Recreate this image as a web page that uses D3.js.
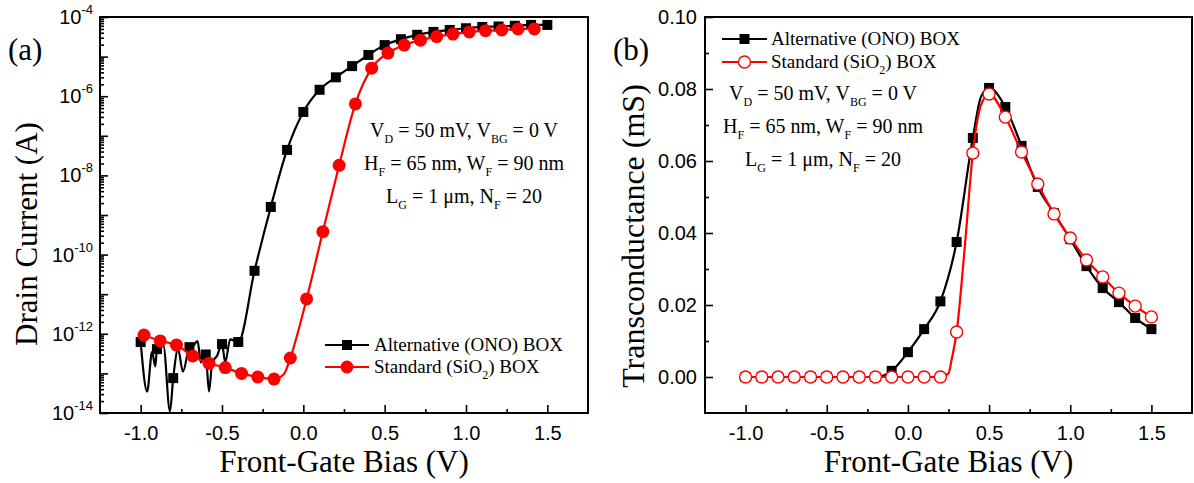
<!DOCTYPE html>
<html><head><meta charset="utf-8">
<script src="https://cdn.jsdelivr.net/npm/d3@7"></script>
<style>
html,body{margin:0;padding:0;background:#fff;}
svg{display:block;}
</style></head><body>
<svg id="chart" width="1194" height="483"></svg>
<script>
// ---------- Data: panel (a) drain current ----------
const altIdV = [-1.00,-0.96,-0.93,-0.91,-0.90,-0.86,-0.82,-0.80,-0.77,-0.74,-0.70,-0.68,-0.65,-0.63,-0.60,-0.58,-0.56,-0.53,-0.50,-0.48,-0.45,-0.40,-0.30,-0.20,-0.10,0.00,0.10,0.20,0.30,0.40,0.50,0.60,0.70,0.80,0.90,1.00,1.10,1.20,1.30,1.40,1.50];
const altId  = [6.2e-13,3.5e-14,3.5e-13,1.5e-13,4.1e-13,4.9e-13,1.1e-14,7.6e-14,4.1e-13,1.1e-13,4.6e-13,4.9e-13,6.5e-13,1.9e-13,3.0e-13,3.5e-14,1.9e-13,2.8e-13,5.5e-13,1.9e-13,7.2e-13,6.2e-13,3.9e-11,1.6e-9,4.4e-8,4.0e-7,1.45e-6,3.0e-6,5.75e-6,1.1e-5,1.95e-5,2.75e-5,3.55e-5,4.2e-5,4.7e-5,5.2e-5,5.6e-5,5.75e-5,6.0e-5,6.3e-5,6.3e-5];
const stdIdV = [-0.98,-0.88,-0.78,-0.68,-0.58,-0.48,-0.38,-0.28,-0.18,-0.12,-0.08,0.02,0.12,0.22,0.32,0.42,0.52,0.62,0.72,0.82,0.92,1.02,1.12,1.22,1.32,1.42];
const stdId  = [9.3e-13,6.6e-13,5.2e-13,2.75e-13,1.8e-13,1.4e-13,1.0e-13,8.1e-14,7.2e-14,9.5e-14,2.45e-13,7.6e-12,3.8e-10,1.8e-8,6.4e-7,5.1e-6,1.23e-5,1.95e-5,2.6e-5,3.2e-5,3.7e-5,4.2e-5,4.5e-5,4.7e-5,5.0e-5,5.0e-5];

// ---------- Data: panel (b) transconductance (mS) ----------
const altGmV = [-1.0,-0.9,-0.8,-0.7,-0.6,-0.5,-0.4,-0.3,-0.2,-0.1,0.0,0.1,0.2,0.3,0.4,0.45,0.5,0.6,0.7,0.8,0.9,1.0,1.1,1.2,1.3,1.4,1.5];
const altGm  = [0,0,0,0,0,0,0,0,0,0.0017,0.0069,0.0133,0.0210,0.0375,0.0664,0.0778,0.0803,0.0750,0.0642,0.0528,0.0455,0.0383,0.0308,0.0247,0.0208,0.0164,0.0133];
const stdGmV = [-1.0,-0.9,-0.8,-0.7,-0.6,-0.5,-0.4,-0.3,-0.2,-0.1,0.0,0.1,0.2,0.25,0.27,0.3,0.35,0.4,0.45,0.5,0.6,0.7,0.8,0.9,1.0,1.1,1.2,1.3,1.4,1.5];
const stdGm  = [0,0,0,0,0,0,0,0,0,0,0,0,0,0.001,0.005,0.0125,0.036,0.0622,0.0755,0.0786,0.0722,0.0625,0.0536,0.0453,0.0386,0.0325,0.0278,0.0233,0.0197,0.0167];

// ---------- Ticks & labels ----------
const xTicks = [-1.0,-0.5,0.0,0.5,1.0,1.5];
const xTickLabels = ["-1.0","-0.5","0.0","0.5","1.0","1.5"];
const xMinor = [-0.75,-0.25,0.25,0.75,1.25];
const yDecadesA = [-14,-13,-12,-11,-10,-9,-8,-7,-6,-5,-4];
const yTicksB = [0,0.02,0.04,0.06,0.08,0.10];
const yTickLabelsB = ["0.00","0.02","0.04","0.06","0.08","0.10"];
const yMinorB = [0.01,0.03,0.05,0.07,0.09];

const xTitle = "Front-Gate Bias (V)";
const yTitleA = "Drain Current (A)";
const yTitleB = "Transconductance (mS)";
const legendParts = [
  [["Alternative (ONO) BOX",0]],
  [["Standard (SiO",0],["2",1],[") BOX",0]]
];
const annoLines = [
  [["V",0],["D",1],[" = 50 mV, V",0],["BG",1],[" = 0 V",0]],
  [["H",0],["F",1],[" = 65 nm, W",0],["F",1],[" = 90 nm",0]],
  [["L",0],["G",1],[" = 1 \u03bcm, N",0],["F",1],[" = 20",0]]
];

// ---------- Drawing ----------
const serif = "'Liberation Serif','Times New Roman',serif";
const sans = "'Liberation Sans',Arial,sans-serif";
const RED = "#ff0000";
const svg = d3.select("#chart");
svg.append("rect").attr("width",1194).attr("height",483).attr("fill","#fff");

function rich(textSel, parts, subSize, subDy){
  let inSub = false;
  parts.forEach(([t,sub])=>{
    const ts = textSel.append("tspan").text(t);
    if (sub && !inSub){ ts.attr("dy",subDy).attr("font-size",subSize); inSub=true; }
    else if (sub && inSub){ ts.attr("font-size",subSize); }
    else if (!sub && inSub){ ts.attr("dy",-subDy); inSub=false; }
  });
}

function styleAxis(g, fontSize){
  g.select(".domain").remove();
  g.selectAll(".tick line").attr("stroke","#000").attr("stroke-width",1.6);
  g.selectAll(".tick text").attr("fill","#000").attr("font-family",sans).attr("font-size",fontSize);
}

function panel(cfg){
  const {x,y,left,right,top,bottom,id} = cfg;
  const g = svg.append("g");
  g.append("clipPath").attr("id","clip"+id).append("rect")
    .attr("x",left).attr("y",top).attr("width",right-left).attr("height",bottom-top);
  const gx = g.append("g").attr("transform",`translate(0,${bottom})`)
    .call(d3.axisBottom(x).tickValues(xTicks).tickFormat((d,i)=>xTickLabels[i])
      .tickSizeInner(-8).tickSizeOuter(0).tickPadding(13));
  styleAxis(gx,"20px");
  const gxm = g.append("g").attr("transform",`translate(0,${bottom})`)
    .call(d3.axisBottom(x).tickValues(xMinor).tickFormat("").tickSizeInner(-4).tickSizeOuter(0));
  styleAxis(gxm,"1px");
  g.append("text").attr("x",(left+right)/2).attr("y",472).attr("text-anchor","middle")
    .attr("font-family",serif).attr("font-size","31px").attr("fill","#000").text(xTitle);
  return g;
}

function drawSeries(g, id, x, y, V, Y, color, shape, off, size, filled){
  const pts = V.map((v,i)=>[v,Y[i]]);
  const layer = g.append("g").attr("clip-path",`url(#clip${id})`);
  layer.append("path").datum(pts)
    .attr("d", d3.line().x(d=>x(d[0])).y(d=>y(d[1])).curve(d3.curveMonotoneX))
    .attr("fill","none").attr("stroke",color).attr("stroke-width",2.2).attr("stroke-linejoin","round");
  const marks = pts.filter(d=>{ const k=(d[0]-off)*10; return Math.abs(k-Math.round(k))<1e-6; });
  drawMarkers(layer, marks.map(d=>[x(d[0]),y(d[1])]), color, shape, size, filled);
}

function drawMarkers(g, xy, color, shape, size, filled){
  if (shape==="square"){
    g.selectAll(null).data(xy).enter().append("rect")
      .attr("x",d=>d[0]-size/2).attr("y",d=>d[1]-size/2).attr("width",size).attr("height",size)
      .attr("fill",color);
  } else {
    g.selectAll(null).data(xy).enter().append("circle")
      .attr("cx",d=>d[0]).attr("cy",d=>d[1]).attr("r",size/2)
      .attr("fill",filled?color:"#fff").attr("stroke",color).attr("stroke-width",filled?0:1.4);
  }
}

function legend(g, x0, x1, yRows, textX, baseDy, styles){
  styles.forEach((s,i)=>{
    const yy = yRows[i];
    g.append("line").attr("x1",x0).attr("x2",x1).attr("y1",yy).attr("y2",yy)
      .attr("stroke",s.color).attr("stroke-width",2.2);
    drawMarkers(g, [[(x0+x1)/2, yy]], s.color, s.shape, s.size, s.filled);
    const t = g.append("text").attr("x",textX).attr("y",yy+baseDy)
      .attr("font-family",serif).attr("font-size","19px").attr("fill","#000");
    rich(t, legendParts[i], "12px", 6);
  });
}

function annotation(g, cx, baselines){
  annoLines.forEach((parts,i)=>{
    const t = g.append("text").attr("x",cx).attr("y",baselines[i]).attr("text-anchor","middle")
      .attr("font-family",serif).attr("font-size","20px").attr("fill","#000");
    rich(t, parts, "12px", 6);
  });
}

// ===== Panel (a) =====
{
  const left=100,right=588,top=17,bottom=413;
  const x = d3.scaleLinear().domain([-1.25,1.75]).range([left,right]);
  const y = d3.scaleLog().domain([1e-14,1e-4]).range([bottom,top]);
  const g = panel({x,y,left,right,top,bottom,id:"A"});
  const gy = g.append("g").attr("transform",`translate(${left},0)`)
    .call(d3.axisLeft(y).tickValues(yDecadesA.map(e=>Math.pow(10,e)))
      .tickFormat(()=> "").tickSizeInner(-8).tickSizeOuter(0).tickPadding(7));
  styleAxis(gy,"20px");
  gy.selectAll(".tick text").each(function(d,i){
    const e = yDecadesA[i];
    if (e % 2 !== 0) return;
    const t = d3.select(this);
    t.append("tspan").text("10");
    t.append("tspan").attr("dy",-10).attr("font-size","13px").text(String(e));
  });
  const minor = [];
  yDecadesA.slice(0,-1).forEach(e=>{ for(let k=2;k<=9;k++) minor.push(k*Math.pow(10,e)); });
  const gym = g.append("g").attr("transform",`translate(${left},0)`)
    .call(d3.axisLeft(y).tickValues(minor).tickFormat("").tickSizeInner(-4).tickSizeOuter(0));
  styleAxis(gym,"1px");
  g.append("text").attr("transform",`translate(37,234) rotate(-90)`).attr("text-anchor","middle")
    .attr("font-family",serif).attr("font-size","31px").attr("fill","#000").text(yTitleA);
  g.append("text").attr("x",8).attr("y",60).attr("font-family",serif).attr("font-size","31px")
    .attr("fill","#000").text("(a)");

  drawSeries(g,"A",x,y,altIdV,altId,"#000","square",0,10,true);
  drawSeries(g,"A",x,y,stdIdV,stdId,RED,"circle",0.02,13,true);

  g.append("rect").attr("x",left).attr("y",top).attr("width",right-left).attr("height",bottom-top)
    .attr("fill","none").attr("stroke","#000").attr("stroke-width",2);

  legend(g, 325, 369, [345,367], 374, 6, [
    {color:"#000",shape:"square",size:10,filled:true},
    {color:RED,shape:"circle",size:13,filled:true}
  ]);
  annotation(g, 464, [137,170,203]);
}

// ===== Panel (b) =====
{
  const left=705,right=1192,top=17,bottom=413;
  const x = d3.scaleLinear().domain([-1.25,1.75]).range([left,right]);
  const y = d3.scaleLinear().domain([-0.01,0.10]).range([bottom,top]);
  const g = panel({x,y,left,right,top,bottom,id:"B"});
  const gy = g.append("g").attr("transform",`translate(${left},0)`)
    .call(d3.axisLeft(y).tickValues(yTicksB).tickFormat((d,i)=>yTickLabelsB[i])
      .tickSizeInner(-8).tickSizeOuter(0).tickPadding(8));
  styleAxis(gy,"20px");
  const gym = g.append("g").attr("transform",`translate(${left},0)`)
    .call(d3.axisLeft(y).tickValues(yMinorB).tickFormat("").tickSizeInner(-4).tickSizeOuter(0));
  styleAxis(gym,"1px");
  g.append("text").attr("transform",`translate(644,236) rotate(-90)`).attr("text-anchor","middle")
    .attr("font-family",serif).attr("font-size","32px").attr("fill","#000").text(yTitleB);
  g.append("text").attr("x",613).attr("y",60).attr("font-family",serif).attr("font-size","31px")
    .attr("fill","#000").text("(b)");

  drawSeries(g,"B",x,y,altGmV,altGm,"#000","square",0,10,true);
  drawSeries(g,"B",x,y,stdGmV,stdGm,RED,"circle",0,12,false);

  g.append("rect").attr("x",left).attr("y",top).attr("width",right-left).attr("height",bottom-top)
    .attr("fill","none").attr("stroke","#000").attr("stroke-width",2);

  legend(g, 722, 767, [39,62], 771, 6, [
    {color:"#000",shape:"square",size:10,filled:true},
    {color:RED,shape:"circle",size:12,filled:false}
  ]);
  annotation(g, 823, [100,133,166]);
}
</script>
</body></html>
